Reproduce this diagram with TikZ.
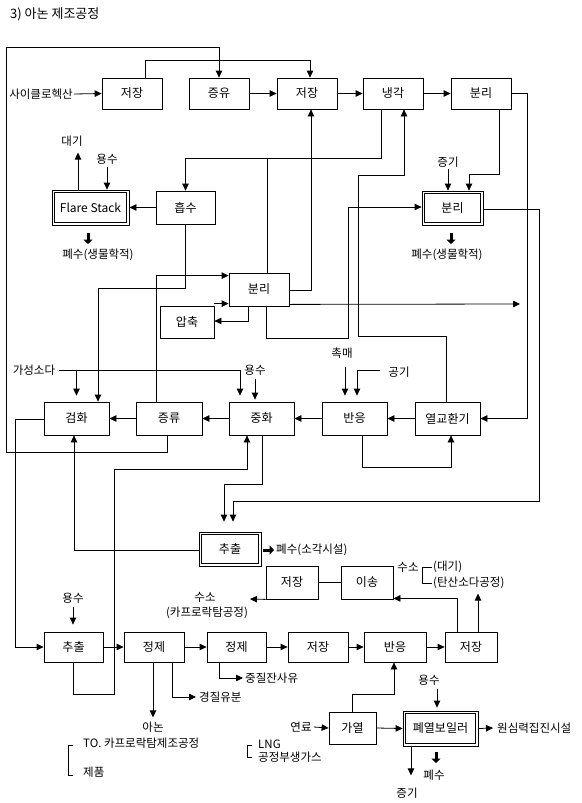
\documentclass[tikz,border=0pt]{standalone}
\usepackage{fontspec}
\setmainfont{Noto Sans CJK KR}
\usetikzlibrary{arrows.meta}
\newcommand\mybxf{\fontsize{12}{14}\selectfont}
\newcommand\mylbf{\fontsize{11.5}{13}\selectfont}
\newcommand\myttf{\fontsize{13}{15}\selectfont}
\begin{document}
\begin{tikzpicture}[x=1pt,y=-1pt,
  box/.style={draw, line width=0.8pt, inner sep=0pt, minimum height=33pt, font=\mybxf},
  dbox/.style={box},
  inbox/.style={line width=0.8pt},
  lbl/.style={inner sep=0pt, font=\mylbf},
  arr/.style={line width=0.8pt, -{Triangle[length=7pt,width=6.5pt]}},
  ln/.style={line width=0.8pt},
  brk/.style={line width=0.6pt},
  fat/.style={line width=3pt, -{Triangle[length=4.5pt,width=9pt]}}]
\useasboundingbox (0,0) rectangle (581,803);

% title
\node[lbl, anchor=west, font=\myttf] (title) at (10,14) {3) 아논 제조공정};

% row 1
\node[box, minimum width=60pt, minimum height=31pt] (s1) at (132,93.5) {저장};
\node[box, minimum width=60pt, minimum height=31pt] (d1) at (219,93.5) {증유};
\node[box, minimum width=60pt, minimum height=31pt] (s2) at (307,93.5) {저장};
\node[box, minimum width=60pt, minimum height=31pt] (c1) at (393,93.5) {냉각};
\node[box, minimum width=60pt, minimum height=31pt] (p1) at (481,93.5) {분리};
\node[lbl] (lcy) at (41,94) {사이클로헥산};

% middle upper
\node[box, minimum width=59pt] (ab) at (185.5,207.5) {흡수};
\node[dbox, minimum width=77pt, minimum height=35pt] (fs) at (90.5,207.5) {Flare Stack};
\node[dbox, minimum width=61pt, minimum height=34pt] (sep2) at (452.5,208) {분리};
\node[box, minimum width=60pt] (sepm) at (259,289.5) {분리};
\node[box, minimum width=54pt, minimum height=32pt] (cp) at (187,322) {압축};

\node[lbl] (ldg) at (72,141) {대기};
\node[lbl] (lw1) at (107,159) {용수};
\node[lbl] (lwaste1) at (98,255) {폐수(생물학적)};
\node[lbl] (lsteam1) at (448,162) {증기};
\node[lbl] (lwaste2) at (447,255) {폐수(생물학적)};

% row 3
\node[box, minimum width=65pt] (sp) at (76.5,418.5) {검화};
\node[box, minimum width=66pt] (d2) at (169,418.5) {증류};
\node[box, minimum width=65pt] (nt) at (261.5,418.5) {중화};
\node[box, minimum width=65pt] (rx) at (354.5,418.5) {반응};
\node[box, minimum width=65pt] (hx) at (447.5,418.5) {열교환기};

\node[lbl] (lcs) at (34,370) {가성소다};
\node[lbl] (lw2) at (255,370) {용수};
\node[lbl] (lcat) at (342,353) {촉매};
\node[lbl] (lair) at (399,372) {공기};

% extraction / hydrogen
\node[dbox, minimum width=62pt, minimum height=34pt] (ex2) at (230,549) {추출};
\node[box, minimum width=52pt] (sC) at (292,582.5) {저장};
\node[box, minimum width=52pt] (ts) at (367,582.5) {이송};
\node[lbl, anchor=west] (lwaste3) at (276,550) {폐수(소각시설)};
\node[lbl] (lh2a) at (408,567) {수소};
\node[lbl, anchor=west] (latm) at (433,567) {(대기)};
\node[lbl, anchor=west] (lsoda) at (433,583) {(탄산소다공정)};
\node[lbl] (lh2b) at (205,597) {수소};
\node[lbl] (lcap) at (207,613) {(카프로락탐공정)};

% bottom row
\node[box, minimum width=59pt, minimum height=30pt] (ex3) at (73.5,647) {추출};
\node[box, minimum width=60pt, minimum height=30pt] (pu1) at (154,647) {정제};
\node[box, minimum width=59pt, minimum height=30pt] (pu2) at (236.5,647) {정제};
\node[box, minimum width=60pt, minimum height=30pt] (sD) at (318,647) {저장};
\node[box, minimum width=62pt, minimum height=30pt] (rx2) at (395,647) {반응};
\node[box, minimum width=52pt, minimum height=30pt] (sE) at (471,647) {저장};

\node[lbl] (lw3) at (73,598) {용수};
\node[lbl] (lanon) at (153,727) {아논};
\node[lbl, anchor=west] (lto) at (83,743) {TO. 카프로락탐제조공정};
\node[lbl, anchor=west] (lprod) at (83,772) {제품};
\node[lbl, anchor=west] (llight) at (199,697) {경질유분};
\node[lbl, anchor=west] (lheavy) at (245,678) {중질잔사유};

% boiler
\node[box, minimum width=47pt, minimum height=32pt] (ht) at (352.5,728) {가열};
\node[dbox, minimum width=75pt, minimum height=35pt] (bl) at (440.5,728.5) {폐열보일러};
\node[lbl] (lfuel) at (301,727) {연료};
\node[lbl] (lw4) at (429,680) {용수};
\node[lbl, anchor=west] (lcyc) at (497,728) {원심력집진시설};
\node[lbl] (lsteam2) at (407,793) {증기};
\node[lbl] (lwaste4) at (434,775) {폐수};
\node[lbl, anchor=west] (llng) at (258,744) {LNG};
\node[lbl, anchor=west] (lbyp) at (258,757) {공정부생가스};

% inner borders of the double boxes
\foreach \n in {fs,sep2,ex2,bl}
  \draw[inbox] ([xshift=2.6pt,yshift=-2.6pt]\n.north west) rectangle ([xshift=-2.6pt,yshift=2.6pt]\n.south east);

% ---------- connectors ----------
% row 1
\draw[arr] ([xshift=1pt]lcy.east) -- (s1.west);
\draw[arr] ([xshift=13pt]s1.north) -- ++(0,-17) -| ([xshift=3pt]s2.north);
\draw[arr] (d1.east) -- (s2.west);
\draw[arr] (s2.east) -- (c1.west);
\draw[arr] (c1.east) -- (p1.west);
% outer loop
\draw[arr] ([xshift=-2pt]d2.south) -- ++(0,17) -| (6,47) -| (d1.north);
% 분리 right -> 열교환기
\draw[arr] (p1.east) -- ++(16,0) |- (hx.east);
% 분리 bottom -> 분리2
\draw[arr] ([xshift=18pt]p1.south) -- ++(0,65) -| ([xshift=16.5pt]sep2.north);
\draw[arr] ([yshift=-2pt]lsteam1.south) -- (lsteam1.south |- sep2.north);
% 냉각 -> 흡수, branch to 분리
\draw[arr] ([xshift=-12pt]c1.south) -- ++(0,49) -| (ab.north);
\draw[ln] ([xshift=8pt]sepm.north) -- ++(0,-115);
% 열교환기 -> 냉각
\draw[arr] ([xshift=-1.5pt]hx.north) -- ++(0,-65) -| (358,175) -| ([xshift=11pt]c1.south);
% 분리(mid) -> 분리2
\draw[arr] ([xshift=7pt]sepm.south) -- ++(0,32) -- ++(82,0) |- ([yshift=1pt]sep2.west);
% 분리(mid) -> 저장
\draw[arr] ([yshift=-0.5pt]sepm.east) -| ([xshift=4pt]s2.south);
% long arrow
\coordinate (far) at (520,304);
\draw[arr] ([yshift=2pt]sepm.south east) -- (far);
% 분리 <-> 압축
\draw[arr] ([xshift=-11pt]sepm.south) |- ([yshift=1pt]cp.east);
\draw[arr] ([yshift=2pt]cp.north east) -- ([yshift=2pt]cp.north east -| sepm.west);
% 증류 -> 분리
\draw[arr] ([xshift=-13pt]d2.north) |- ([yshift=-3pt]sepm.north west);
% 흡수 -> 검화
\draw[arr] (ab.south) -- ++(0,64) -| ([xshift=21.5pt]sp.north);
% 흡수 -> Flare Stack
\draw[arr] (ab.west) -- (fs.east);
\draw[arr] ([xshift=-12.5pt]fs.north) -- ++(0,-37);
\draw[arr] ([yshift=-3pt]lw1.south) -- (lw1.south |- fs.north);
\draw[fat] (88,233) -- (88,244);
\draw[fat] (451,233) -- (451,244);

% row 3
\draw[arr] (hx.west) -- (rx.east);
\draw[arr] (rx.west) -- (nt.east);
\draw[arr] (nt.west) -- (d2.east);
\draw[arr] (d2.west) -- (sp.east);
\coordinate (csR) at ([xshift=-21.5pt]nt.north |- lcs.east);
\coordinate (csL) at (sp.north |- lcs.east);
\draw[ln] ([xshift=4pt]lcs.east) -- (csR);
\draw[arr, shorten >=6pt] (csL) -- (sp.north);
\draw[arr, shorten >=6pt] (csR) -- (csR |- nt.north);
\draw[arr, shorten >=6pt] ([yshift=-4pt]lw2.south) -- ([yshift=-4pt]lw2.south |- nt.north);
\draw[arr, shorten >=6pt] ([xshift=3pt,yshift=-9pt]lcat.south) -- ([xshift=3pt]lcat.south |- rx.north);
\draw[arr, shorten >=6pt] ([xshift=-8pt,yshift=2pt]lair.west) -| ([xshift=2.5pt]rx.north);
\draw[arr] ([xshift=7.5pt]rx.south) -- ++(0,32) -| ([xshift=3.5pt]hx.south);

% 검화 -> 추출(bottom)
\draw[arr] ([yshift=-0.5pt]sp.west) -- ++(-28,0) |- (ex3.west);
% 추출2 -> 검화
\draw[arr] ([yshift=-1pt]ex2.west) -| ([xshift=-2.5pt]sp.south);
% 추출(bottom) -> 중화
\draw[arr] (ex3.south) -- ++(0,32) -| (114,469) -| ([xshift=-14.5pt]nt.south);
% 중화 -> 추출2
\draw[arr, shorten >=10pt] ([xshift=0.5pt]nt.south) -- ++(0,49) -| ([xshift=-6pt]ex2.north);
% 분리2 -> 추출2
\draw[arr, shorten >=10pt] ([yshift=-1pt]sep2.east) -- ++(56,0) -- ++(0,292) -| ([xshift=3pt]ex2.north);
\draw[fat] (263,550) -- (274,550);

% hydrogen
\draw[ln] (sC.east) -- (ts.west);
\coordinate (h2end) at (250,599);
\draw[arr] (sC.south west) -- (h2end);
\draw[brk] (432,567) -- (422,567) -- (422,583) -- (432,583);
\draw[arr] ([xshift=7pt]sE.north) -- ++(0,-38);
\draw[arr] ([xshift=-14pt]sE.north) |- ([yshift=1pt]ts.south east);

% bottom row
\draw[arr] (ex3.east) -- (pu1.west);
\draw[arr] (pu1.east) -- (pu2.west);
\draw[arr] (pu2.east) -- (sD.west);
\draw[arr] (sD.east) -- (rx2.west);
\draw[arr] (rx2.east) -- (sE.west);
\draw[arr, shorten >=7pt] ([yshift=-4pt]lw3.south) -- (lw3.south |- ex3.north);
\draw[arr] ([xshift=-1pt]pu1.south) -- ++(0,55);
\draw[arr] ([xshift=18pt]pu1.south) |- ([xshift=-3pt]llight.west);
\draw[arr] ([xshift=-17.5pt]pu2.south) |- ([xshift=-2pt]lheavy.west);
\draw[brk] (73,745) -- (68,745) -- (68,775) -- (73,775);

% boiler
\draw[arr] ([xshift=2pt]lfuel.east) -- (ht.west);
\draw[arr] (ht.east) -- (bl.west);
\draw[arr] (ht.north) -- ++(0,-17) -| ([xshift=-1pt]rx2.south);
\draw[arr, shorten >=3pt] ([xshift=8pt,yshift=-4pt]lw4.south) -- ([xshift=8pt]lw4.south |- bl.north);
\draw[arr] (bl.east) -- ([xshift=-4pt]lcyc.west);
\draw[arr] ([xshift=-29.5pt]bl.south) -- ++(0,29);
\draw[fat] (436,752) -- (436,763);
\draw[brk] (252,745) -- (247,745) -- (247,757) -- (252,757);
\end{tikzpicture}
\end{document}
